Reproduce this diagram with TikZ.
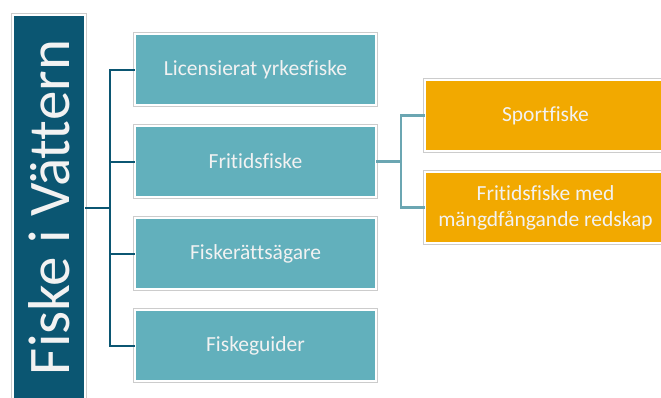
\documentclass[tikz,border=0pt]{standalone}
\usepackage{fontspec}
\setmainfont{Carlito}[Ligatures={NoCommon}]
\usetikzlibrary{positioning}
\definecolor{rootteal}{HTML}{0B5672}
\definecolor{boxteal}{HTML}{62B0BC}
\definecolor{boxorange}{HTML}{F2A900}
\definecolor{lineteal}{HTML}{6BA6B2}
\definecolor{offwhite}{HTML}{F2F2F2}

\begin{document}
\begin{tikzpicture}[x=1pt, y=-1pt, node distance = 21pt and 49pt,
framed/.style = {% white rim with thin grey outline
rectangle, draw=white, line width=2.4pt, outer sep=0pt, inner sep=0pt,
preaction={draw=black!20, line width=4pt}, text=offwhite},
tealbox/.style = {framed, fill=boxteal, minimum width=241pt, minimum height=71pt,
font=\fontsize{21.5}{26}\selectfont},
orangebox/.style = {tealbox, fill=boxorange, align=center},
rootbox/.style = {framed, fill=rootteal, rotate=90, minimum width=385pt, minimum height=72pt,
font=\fontsize{59}{70}\selectfont},
conn/.style = {draw=rootteal, line width=2pt},
subconn/.style = {draw=lineteal, line width=2.6pt}]
\useasboundingbox (0,0) rectangle (661,397);
\begin{scope}
\clip (0,0) rectangle (661,397);
\node[rootbox] (root) at (49,207.5) {Fiske i Vättern};
% first level
\node[tealbox] (lic) at (255.5,69.5) {Licensierat yrkesfiske};
\node[tealbox, below=of lic] (frit) {Fritidsfiske};
\node[tealbox, below=of frit] (agare) {Fiskerättsägare};
\node[tealbox, below=of agare] (guide) {Fiskeguider};
% second level
\node[orangebox, right=of frit, yshift=46pt] (sport) {Sportfiske};
\node[orangebox, below=of sport] (mangd) {Fritidsfiske med\\mängdfångande redskap};
\end{scope}
% connectors
\coordinate (trunk) at (110,207.5);
\coordinate (fork) at (401,161.5);
\draw[conn] (root.south) -- (trunk);
\foreach \n in {lic, frit, agare, guide}
  \draw[conn] (trunk) |- (\n.west);
\draw[subconn] (frit.east) -- (fork);
\draw[subconn] (fork) |- (sport.west);
\draw[subconn] (fork) |- (mangd.west);
\end{tikzpicture}
\end{document}
